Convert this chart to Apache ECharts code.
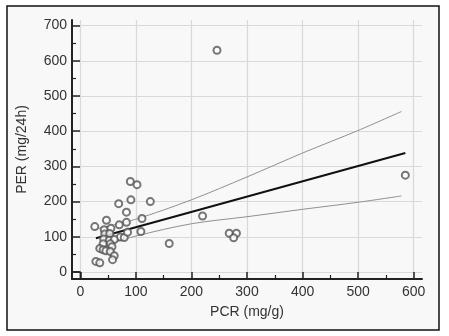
<!DOCTYPE html>
<html lang="en">
<head>
    <meta charset="UTF-8">
    <title>PER vs PCR</title>
    <style>
        body { margin: 0; background: #fff; }
        #chart { width: 449px; height: 336px; }
    </style>
    <script src="https://cdn.jsdelivr.net/npm/echarts@6/dist/echarts.min.js"></script>
</head>
<body>
<div id="chart"></div>
<script>
    // scatter points
    const pcr = [246, 585, 220, 268, 281, 276, 160, 126, 90, 102, 91, 69, 83, 111, 83, 70, 109, 72, 79, 26,
                 47, 43, 55, 44, 53, 42, 52, 61, 41, 54, 57, 35, 41, 46, 54, 61, 58, 28, 35, 85];
    const per = [630, 275, 159, 110, 110, 97, 81, 200, 257, 248, 205, 194, 170, 152, 141, 134, 115, 99, 98, 129,
                 147, 120, 124, 108, 109, 94, 90, 92, 80, 80, 72, 67, 63, 60, 58, 46, 35, 30, 26, 113];

    // regression line and its confidence band
    const fitX = [28, 585];
    const fitY = [96, 338];
    const ciX = [28, 100, 200, 300, 400, 500, 578];
    const ciUpper = [122, 150, 205, 270, 338, 402, 456];
    const ciLower = [68, 102, 137, 157, 178, 198, 216];

    const xTicks = [0, 100, 200, 300, 400, 500, 600];
    const yTicks = [0, 100, 200, 300, 400, 500, 600, 700];
    const xMinor = [50, 150, 250, 350, 450, 550];
    const yMinor = [50, 150, 250, 350, 450, 550, 650];
    const xRange = [-15, 615];
    const yRange = [-20, 716];

    const font = "'Liberation Sans', Arial, sans-serif";
    const axisColor = '#222';

    function pairs(xs, ys) {
        return xs.map((x, i) => [x, ys[i]]);
    }

    const chart = echarts.init(document.getElementById('chart'));
    chart.setOption({
        animation: false,
        backgroundColor: '#fff',
        graphic: [{
            type: 'rect',
            shape: { x: 7, y: 6, width: 432, height: 324 },
            style: { fill: '#f8f8f8', stroke: '#111', lineWidth: 1.5 },
            z: -10
        }],
        grid: { left: 72, right: 27, top: 20, bottom: 57 },
        xAxis: [{
            type: 'value',
            min: xRange[0], max: xRange[1],
            name: 'PCR (mg/g)',
            nameLocation: 'middle',
            nameGap: 26,
            nameTextStyle: { fontFamily: font, fontSize: 14, color: '#333' },
            axisLine: { onZero: false, lineStyle: { color: axisColor, width: 2 } },
            axisTick: { inside: true, length: 7, customValues: xTicks, lineStyle: { color: axisColor, width: 1.5 } },
            axisLabel: { customValues: xTicks, margin: 6, fontFamily: font, fontSize: 14, color: '#333' },
            splitLine: { show: true, lineStyle: { color: '#d9d9d9', width: 1.2 } }
        }, {
            // minor ticks only
            type: 'value',
            position: 'bottom',
            min: xRange[0], max: xRange[1],
            axisLine: { show: true, onZero: false, lineStyle: { color: 'rgba(0,0,0,0)' } },
            axisTick: { show: true, inside: true, length: 4, customValues: xMinor, lineStyle: { color: axisColor, width: 1.2 } },
            axisLabel: { show: false },
            splitLine: { show: false }
        }],
        yAxis: [{
            type: 'value',
            min: yRange[0], max: yRange[1],
            name: 'PER (mg/24h)',
            nameLocation: 'middle',
            nameGap: 43,
            nameTextStyle: { fontFamily: font, fontSize: 14, color: '#333' },
            axisLine: { show: true, onZero: false, lineStyle: { color: axisColor, width: 2 } },
            axisTick: { show: true, inside: true, length: 8, customValues: yTicks, lineStyle: { color: axisColor, width: 1.5 } },
            axisLabel: { customValues: yTicks, margin: 5, fontFamily: font, fontSize: 14, color: '#333' },
            splitLine: { show: true, lineStyle: { color: '#d9d9d9', width: 1.2 } }
        }, {
            // minor ticks only
            type: 'value',
            position: 'left',
            min: yRange[0], max: yRange[1],
            axisLine: { show: true, onZero: false, lineStyle: { color: 'rgba(0,0,0,0)' } },
            axisTick: { show: true, inside: true, length: 4, customValues: yMinor, lineStyle: { color: axisColor, width: 1.2 } },
            axisLabel: { show: false },
            splitLine: { show: false }
        }],
        series: [{
            // little bracket at the origin
            type: 'line',
            data: [[xRange[0], 0], [0, 0], [0, yRange[0]]],
            symbol: 'none',
            lineStyle: { color: axisColor, width: 1.5 },
            z: 5
        }, {
            type: 'line',
            data: pairs(ciX, ciUpper),
            symbol: 'none',
            smooth: 0.3,
            lineStyle: { color: '#909090', width: 1 }
        }, {
            type: 'line',
            data: pairs(ciX, ciLower),
            symbol: 'none',
            smooth: 0.3,
            lineStyle: { color: '#909090', width: 1 }
        }, {
            type: 'line',
            data: pairs(fitX, fitY),
            symbol: 'none',
            lineStyle: { color: '#111', width: 2 }
        }, {
            type: 'scatter',
            data: pairs(pcr, per),
            symbol: 'emptyCircle',
            symbolSize: 7,
            itemStyle: { color: '#555', borderWidth: 1.2 },
            z: 4
        }]
    });
</script>
</body>
</html>
